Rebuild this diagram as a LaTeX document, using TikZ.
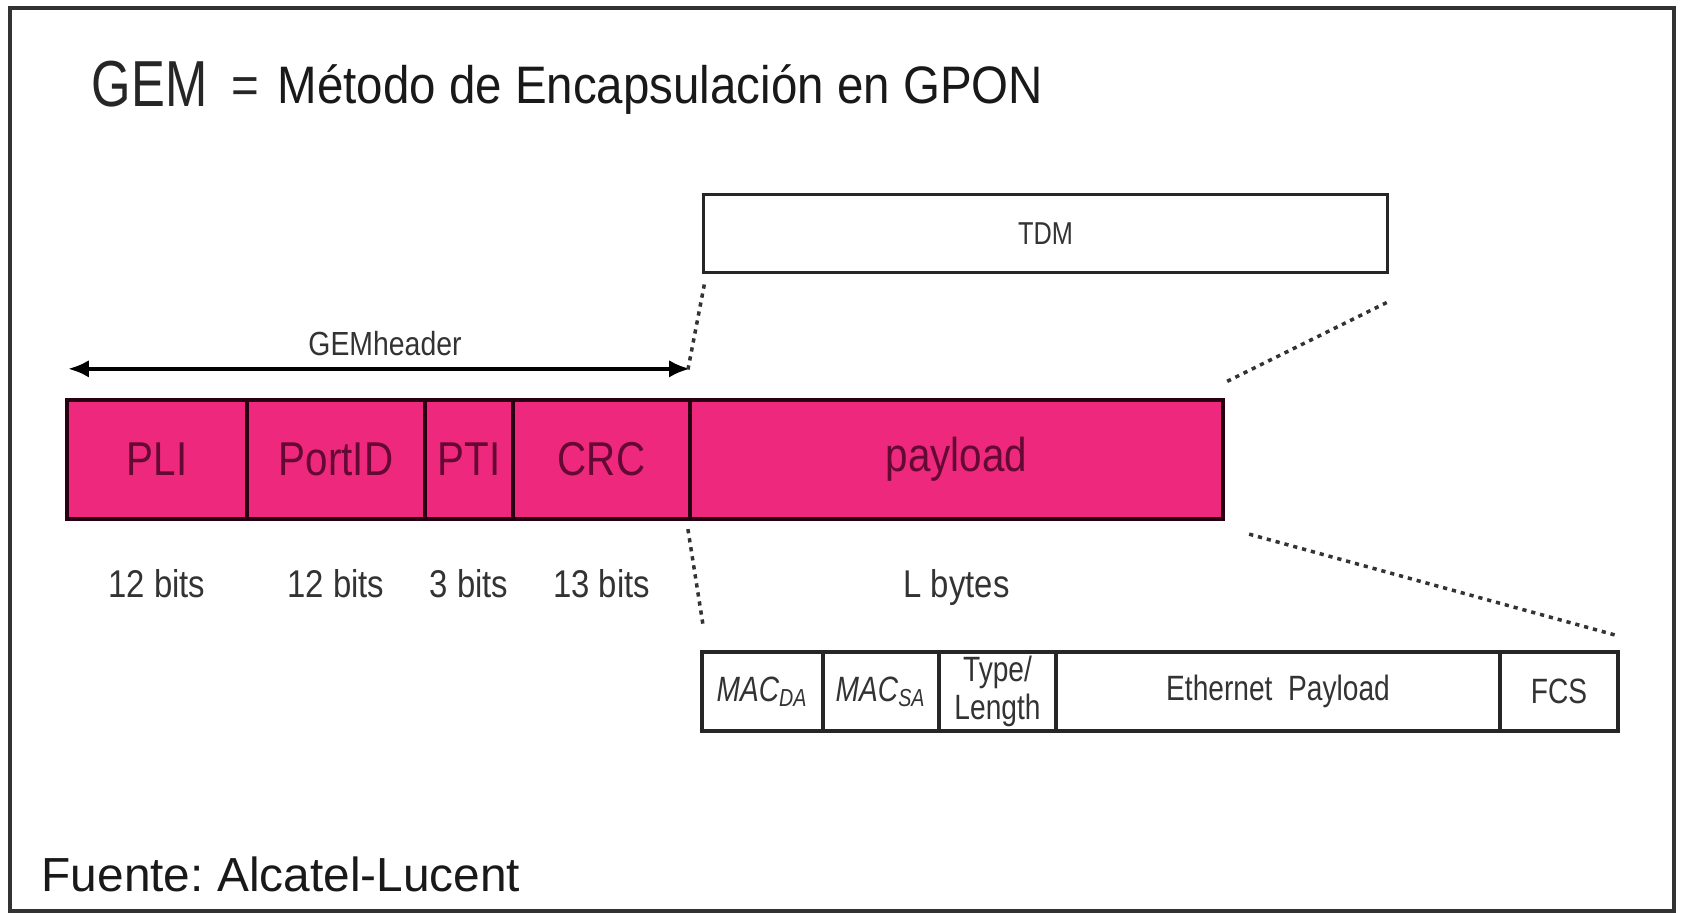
\documentclass[tikz,border=0pt]{standalone}
\usepackage{fontspec}
\setmainfont{Liberation Sans}
\newfontfamily\gemfont[FakeStretch=0.78]{Liberation Sans}
\newfontfamily\titlefont[FakeStretch=0.9]{Liberation Sans}
\newfontfamily\boxfont[FakeStretch=0.85]{Liberation Sans}
\newfontfamily\ethfont[FakeStretch=0.8]{Liberation Sans}
\usetikzlibrary{calc,arrows.meta}
\definecolor{gempink}{RGB}{238,40,125}
\definecolor{gemedge}{RGB}{40,0,18}
\definecolor{gemtext}{RGB}{100,8,52}
\frenchspacing
\begin{document}
\begin{tikzpicture}[x=0.01cm,y=-0.01cm,
  field/.style={draw=gemedge,line width=1.2pt,fill=gempink,text=gemtext,inner sep=0pt,
    minimum height=1.19cm,font=\boxfont\fontsize{13.5}{15}\selectfont},
  bits/.style={anchor=base,inner sep=0pt,text=black!80,font=\boxfont\fontsize{11}{13}\selectfont},
  ethbox/.style={draw=black!85,line width=1pt,inner sep=0pt,minimum height=0.79cm,
    align=center,text=black!80,font=\ethfont\fontsize{10}{11}\selectfont},
  dots/.style={black!80,line width=1pt,dash pattern=on 1.2pt off 1.4pt},
  hdrarrow/.style={line width=1.2pt,{Latex[length=6pt,width=5pt]}-{Latex[length=6pt,width=5pt]}}
]
\useasboundingbox (0,0) rectangle (1686,913);
\draw[line width=1pt,black!80] (10,8) rectangle (1674,911);

% title
\node[anchor=base west,inner sep=0pt,text=black!85,font=\gemfont\fontsize{18.5}{20}\selectfont] (gem) at (91,107) {GEM};
\node[anchor=base west,inner sep=0pt,text=black!85,font=\titlefont\fontsize{15}{18}\selectfont] (eq) at (231,104) {=};
\node[anchor=base west,inner sep=0pt,text=black!90,font=\titlefont\fontsize{15}{18}\selectfont] (title) at (277,104) {Método de Encapsulación en GPON};

% GEM frame
\foreach \name/\xa/\xb/\lab in {pli/67/247/PLI, portid/247/425/PortID, pti/425/513/PTI, crc/513/690/CRC, payload/690/1223/payload}
{
	\pgfmathsetmacro\w{(\xb-\xa)*0.01}
	\node[field,minimum width=\w cm] (\name) at ({(\xa+\xb)/2},459.5) {\lab};
}
\foreach \name/\lab in {pli/12 bits, portid/12 bits, pti/3 bits, crc/13 bits, payload/L bytes}
{
	\node[bits] (\name-bits) at ([yshift=-0.76cm]\name.south) {\lab};
}

\draw[hdrarrow] ($(pli.north west)+(3,-29)$) -- ($(crc.north east)+(-2,-29)$);
\node[text=black!80,font=\boxfont\fontsize{9.5}{11}\selectfont] (hdr) at (385,344) {GEMheader};

% TDM
\node[draw=black!85,line width=0.85pt,minimum width=6.83cm,minimum height=0.77cm,text=black!80,
  font=\ethfont\fontsize{9}{10}\selectfont] (tdm) at (1045.5,233.5) {TDM};

% Ethernet
\node[ethbox,minimum width=1.21cm] (macda) at (762.5,691.5) {\itshape MAC\textsubscript{DA}};
\node[ethbox,minimum width=1.16cm] (macsa) at (881,691.5) {\itshape MAC\textsubscript{SA}};
\node[ethbox,minimum width=1.17cm] (typelen) at (997.5,691.5) {Type/\\Length};
\node[ethbox,minimum width=4.44cm] (ethpay) at (1278,691.5) {Ethernet\ \ Payload};
\node[ethbox,minimum width=1.18cm] (fcs) at (1559,691.5) {FCS};

\draw[dots] ($(tdm.south west)+(2,11)$) -- ($(payload.north west)+(0,-28)$);
\draw[dots] ($(tdm.south east)+(-2,29)$) -- ($(payload.north east)+(-1,-15)$);
\draw[dots] ($(payload.south west)+(0,8)$) -- ($(macda.north west)+(3,-24)$);
\draw[dots] ($(payload.south east)+(24,13)$) -- ($(fcs.north east)+(-4,-15)$);

% source
\node[anchor=base west,inner sep=0pt,text=black!90,font=\fontsize{13.6}{16}\selectfont] (src) at (41,891) {Fuente: Alcatel-Lucent};
\end{tikzpicture}
\end{document}
